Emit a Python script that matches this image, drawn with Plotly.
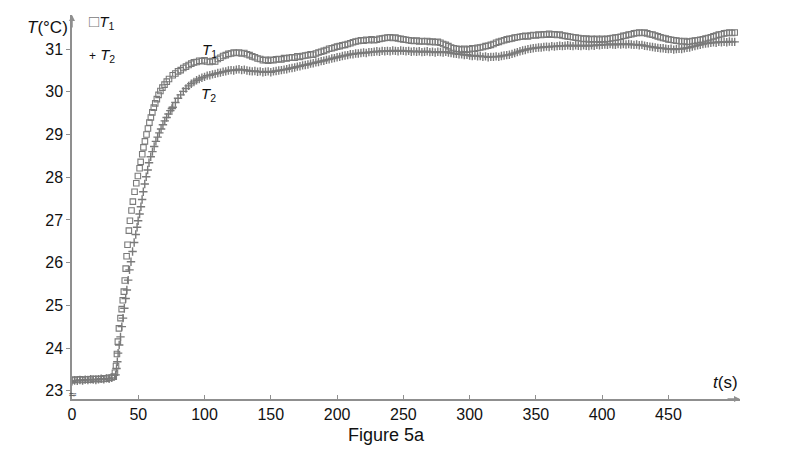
import plotly.graph_objects as go

# ---- data ----
# flat part before heating, both sensors (s, degC)
t_flat = list(range(0, 32, 2))
T1_flat = [23.24, 23.26, 23.25, 23.27, 23.25, 23.26, 23.27, 23.26, 23.28, 23.27,
           23.28, 23.27, 23.29, 23.28, 23.30, 23.31]
T2_flat = [23.22, 23.24, 23.23, 23.25, 23.24, 23.26, 23.25, 23.27, 23.26, 23.25,
           23.27, 23.28, 23.27, 23.29, 23.28, 23.30]

# rise, individual samples
t1_rise = [31.5, 32.4, 33.2, 33.9, 34.6, 35.4, 36.6, 37.5, 38.3, 39.1,
           39.8, 40.5, 41.2, 41.9, 42.9, 43.7, 44.9, 45.9, 47.2, 48.5,
           49.7, 51.0, 51.8, 53.0, 53.9, 55.0, 56.2, 57.3, 58.4, 59.5,
           60.6, 61.7, 62.8, 64.0, 65.3, 66.7, 68.2, 69.8, 71.5, 73.2]
T1_rise = [23.33, 23.42, 23.58, 23.86, 24.15, 24.46, 24.70, 24.91, 25.12, 25.32,
           25.58, 25.86, 26.15, 26.42, 26.75, 26.98, 27.22, 27.43, 27.66, 27.86,
           28.03, 28.21, 28.36, 28.54, 28.70, 28.84, 29.00, 29.14, 29.28, 29.40,
           29.52, 29.63, 29.73, 29.83, 29.93, 30.02, 30.10, 30.17, 30.24, 30.30]

t2_rise = [32.9, 33.6, 34.2, 34.8, 35.6, 36.6, 37.6, 38.5, 39.5, 40.5,
           41.4, 42.4, 43.4, 44.5, 45.7, 46.9, 48.1, 49.1, 49.9, 51.0,
           52.0, 52.9, 53.8, 54.9, 56.0, 57.1, 58.1, 59.4, 60.7, 62.0,
           63.3, 64.6, 65.9, 67.2, 68.6, 70.0, 71.4, 72.8, 74.2, 75.4]
T2_rise = [23.37, 23.52, 23.68, 23.88, 24.07, 24.26, 24.50, 24.70, 24.93, 25.16,
           25.36, 25.59, 25.83, 26.02, 26.26, 26.47, 26.66, 26.83, 26.98, 27.14,
           27.31, 27.48, 27.66, 27.84, 28.01, 28.17, 28.34, 28.48, 28.60, 28.72,
           28.84, 28.94, 29.04, 29.13, 29.23, 29.32, 29.40, 29.48, 29.56, 29.61]

# plateau, sampled every 2 s from 76 s to 500 s
t_plat = list(range(76, 501, 2))
T1_plat = [
    30.39, 30.43, 30.48, 30.51, 30.56, 30.59, 30.63, 30.66, 30.69, 30.70,
    30.73, 30.72, 30.74, 30.71, 30.70, 30.72, 30.71, 30.77, 30.80, 30.84,
    30.86, 30.89, 30.90, 30.92, 30.91, 30.92, 30.90, 30.91, 30.88, 30.86,
    30.83, 30.81, 30.78, 30.77, 30.74, 30.75, 30.73, 30.75, 30.74, 30.76,
    30.77, 30.76, 30.79, 30.78, 30.80, 30.81, 30.80, 30.83, 30.82, 30.84,
    30.85, 30.86, 30.88, 30.87, 30.90, 30.92, 30.94, 30.96, 30.98, 31.01,
    31.02, 31.04, 31.06, 31.07, 31.09, 31.10, 31.12, 31.14, 31.16, 31.18,
    31.19, 31.21, 31.20, 31.22, 31.21, 31.23, 31.21, 31.22, 31.24, 31.25,
    31.26, 31.27, 31.28, 31.26, 31.27, 31.25, 31.24, 31.23, 31.22, 31.21,
    31.20, 31.19, 31.20, 31.18, 31.19, 31.18, 31.19, 31.17, 31.18, 31.16,
    31.17, 31.15, 31.12, 31.10, 31.07, 31.04, 31.02, 31.01, 31.00, 30.99,
    31.01, 30.99, 31.00, 31.02, 31.01, 31.03, 31.04, 31.05, 31.07, 31.08,
    31.10, 31.12, 31.15, 31.17, 31.19, 31.21, 31.23, 31.24, 31.25, 31.27,
    31.28, 31.29, 31.30, 31.31, 31.30, 31.32, 31.33, 31.32, 31.34, 31.33,
    31.35, 31.34, 31.36, 31.34, 31.35, 31.33, 31.34, 31.32, 31.31, 31.30,
    31.29, 31.28, 31.27, 31.26, 31.25, 31.24, 31.25, 31.23, 31.24, 31.23,
    31.24, 31.22, 31.24, 31.23, 31.24, 31.25, 31.26, 31.27, 31.28, 31.29,
    31.31, 31.32, 31.34, 31.35, 31.37, 31.38, 31.39, 31.38, 31.39, 31.37,
    31.35, 31.34, 31.32, 31.30, 31.28, 31.26, 31.25, 31.23, 31.22, 31.21,
    31.20, 31.19, 31.18, 31.19, 31.17, 31.18, 31.19, 31.20, 31.21, 31.22,
    31.23, 31.25, 31.26, 31.28, 31.30, 31.32, 31.34, 31.35, 31.37, 31.38,
    31.39, 31.38, 31.39]
T2_plat = [
    29.64, 29.75, 29.85, 29.93, 30.01, 30.08, 30.14, 30.19, 30.23, 30.27,
    30.30, 30.33, 30.35, 30.38, 30.39, 30.41, 30.42, 30.44, 30.45, 30.47,
    30.48, 30.50, 30.51, 30.50, 30.52, 30.53, 30.51, 30.52, 30.50, 30.49,
    30.48, 30.49, 30.47, 30.48, 30.46, 30.47, 30.48, 30.46, 30.48, 30.49,
    30.50, 30.51, 30.52, 30.53, 30.55, 30.56, 30.57, 30.59, 30.60, 30.62,
    30.63, 30.64, 30.66, 30.67, 30.69, 30.70, 30.72, 30.73, 30.75, 30.76,
    30.78, 30.79, 30.81, 30.82, 30.84, 30.85, 30.86, 30.88, 30.88, 30.90,
    30.90, 30.91, 30.92, 30.91, 30.93, 30.93, 30.94, 30.95, 30.94, 30.96,
    30.95, 30.96, 30.95, 30.97, 30.96, 30.95, 30.97, 30.96, 30.95, 30.96,
    30.94, 30.95, 30.94, 30.95, 30.93, 30.94, 30.95, 30.93, 30.94, 30.92,
    30.94, 30.93, 30.92, 30.94, 30.92, 30.91, 30.90, 30.89, 30.88, 30.88,
    30.86, 30.87, 30.85, 30.84, 30.85, 30.83, 30.84, 30.82, 30.83, 30.81,
    30.82, 30.82, 30.83, 30.82, 30.84, 30.85, 30.86, 30.87, 30.89, 30.91,
    30.93, 30.95, 30.97, 30.98, 31.00, 31.01, 31.02, 31.03, 31.04, 31.04,
    31.05, 31.06, 31.05, 31.07, 31.06, 31.07, 31.08, 31.07, 31.08, 31.09,
    31.08, 31.07, 31.09, 31.08, 31.07, 31.09, 31.08, 31.07, 31.09, 31.08,
    31.10, 31.09, 31.10, 31.11, 31.10, 31.12, 31.11, 31.10, 31.12, 31.11,
    31.12, 31.11, 31.12, 31.11, 31.10, 31.11, 31.09, 31.10, 31.08, 31.07,
    31.06, 31.05, 31.04, 31.03, 31.02, 31.02, 31.01, 31.00, 31.01, 30.99,
    31.00, 31.01, 31.00, 31.02, 31.03, 31.04, 31.06, 31.07, 31.09, 31.10,
    31.12, 31.13, 31.14, 31.15, 31.16, 31.15, 31.17, 31.16, 31.17, 31.16,
    31.18, 31.17, 31.17]

x_ticks = [0, 50, 100, 150, 200, 250, 300, 350, 400, 450]
y_ticks = [23, 24, 25, 26, 27, 28, 29, 30, 31]

t1 = t_flat + t1_rise + t_plat
T1 = T1_flat + T1_rise + T1_plat
t2 = t_flat + t2_rise + t_plat
T2 = T2_flat + T2_rise + T2_plat

GREY = '#7a7a7a'
AXIS = '#8f8f8f'
FONT = 'Liberation Sans, Arial, sans-serif'
X_MAX = 504
Y_MIN, Y_MAX = 22.806, 31.80

fig = go.Figure()
fig.add_trace(go.Scatter(x=t2, y=T2, mode='markers', name='T2',
                         marker=dict(symbol='cross-thin', size=6,
                                     line=dict(color=GREY, width=1.4))))
fig.add_trace(go.Scatter(x=t1, y=T1, mode='markers', name='T1',
                         marker=dict(symbol='square-open', size=5.5, color=GREY,
                                     line=dict(width=1.1))))

ann = []
# axis arrows
ann.append(dict(x=X_MAX, y=Y_MIN, xref='x', yref='y', text='', showarrow=True,
                arrowhead=2, arrowsize=0.8, arrowwidth=1.5, arrowcolor=AXIS,
                ax=-14, ay=0))
ann.append(dict(x=0, y=Y_MAX, xref='x', yref='y', text='', showarrow=True,
                arrowhead=2, arrowsize=0.8, arrowwidth=1.5, arrowcolor=AXIS,
                ax=0, ay=14))
# axis titles
ann.append(dict(x=0, y=Y_MAX, xref='x', yref='y', xanchor='right', yanchor='top',
                xshift=-2, yshift=-1, text='<i>T</i>(°C)', showarrow=False,
                font=dict(size=17, color='#111', family=FONT)))
ann.append(dict(x=X_MAX, y=Y_MIN, xref='x', yref='y', xanchor='right', yanchor='bottom',
                yshift=5, text='<i>t</i>(s)', showarrow=False,
                font=dict(size=17, color='#111', family=FONT)))
# legend
ann.append(dict(x=11, y=31.64, xref='x', yref='y', xanchor='left', yanchor='middle',
                text='<span style="color:#7a7a7a;font-size:17px">□</span><i>T</i><sub>1</sub>',
                showarrow=False, font=dict(size=15, color='#111', family=FONT)))
ann.append(dict(x=11, y=30.86, xref='x', yref='y', xanchor='left', yanchor='middle',
                text='<span style="font-size:12px">+</span> <i>T</i><sub>2</sub>',
                showarrow=False, font=dict(size=15, color='#111', family=FONT)))
# curve labels
ann.append(dict(x=104, y=30.98, xref='x', yref='y', text='<i>T</i><sub>1</sub>',
                showarrow=False, font=dict(size=15, color='#111', family=FONT)))
ann.append(dict(x=103, y=29.93, xref='x', yref='y', text='<i>T</i><sub>2</sub>',
                showarrow=False, font=dict(size=15, color='#111', family=FONT)))
# axis break mark
ann.append(dict(x=0, y=22.9, xref='x', yref='y', text='≈', showarrow=False,
                font=dict(size=11, color='#555', family='DejaVu Sans')))
# caption
ann.append(dict(x=0.471, y=-0.094, xref='paper', yref='paper', xanchor='center',
                yanchor='middle', text='Figure 5a', showarrow=False,
                font=dict(size=18, color='#111', family=FONT)))

# the page puts the figure 8 px in from the top-left corner
fig.update_layout(
    width=782, height=444,
    margin=dict(l=64, r=50, t=7, b=53),
    paper_bgcolor='white', plot_bgcolor='white',
    showlegend=False,
    annotations=ann,
    font=dict(family=FONT, size=15, color='#111'),
)
fig.update_xaxes(range=[0, X_MAX], tickvals=x_ticks, ticks='inside', ticklen=4,
                 tickcolor=AXIS, tickwidth=1, showline=True, linecolor=AXIS,
                 linewidth=1.5, showgrid=False, zeroline=False,
                 tickfont=dict(size=16, color='#111'))
fig.update_yaxes(range=[Y_MIN, Y_MAX], tickvals=y_ticks, ticks='outside', ticklen=4,
                 tickcolor=AXIS, tickwidth=1, showline=True, linecolor=AXIS,
                 linewidth=1.5, showgrid=False, zeroline=False,
                 tickfont=dict(size=16, color='#111'))

fig.write_html("out.html")
